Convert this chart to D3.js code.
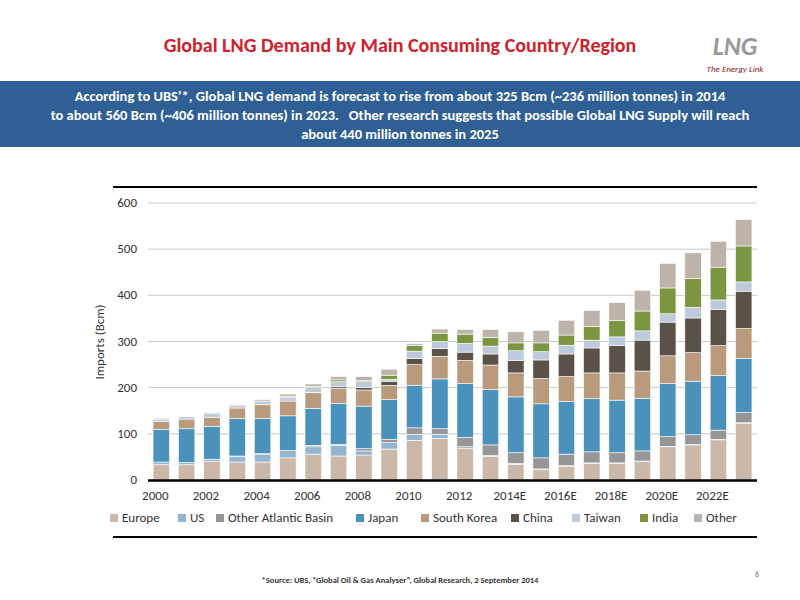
<!DOCTYPE html>
<html><head><meta charset="utf-8">
<script src="https://cdn.jsdelivr.net/npm/d3@7"></script>
<style>body{margin:0;background:#fff;font-family:Calibri,"Open Sans",sans-serif}</style>
</head><body>
<svg width="800" height="600"></svg>
<script>
// data (Bcm per year, stacked bottom to top)
const years = ['2000','2001','2002','2003','2004','2005','2006','2007','2008','2009','2010','2011','2012','2013','2014E','2015E','2016E','2017E','2018E','2019E','2020E','2021E','2022E','2023E'];
const tickYears = ['2000','2002','2004','2006','2008','2010','2012','2014E','2016E','2018E','2020E','2022E'];
const seriesNames = ['Europe','US','Other Atlantic Basin','Japan','South Korea','China','Taiwan','India','Other'];
const europe  = [33,33,40,39,39,48,56,52,54,67,86,90,68,51,34,23,30,36,36,40,72,76,87,123];
const us      = [6,5,5,12,17,16,16,23,9,14,13,9,4,2,2,1,1,1,1,1,1,1,1,1];
const otherAtl= [0,0,0,1,1,0,3,2,5,7,14,12,20,23,23,24,25,24,22,22,21,21,20,22];
const japan   = [70,73,71,81,76,75,80,89,92,86,92,108,117,120,121,117,114,115,114,114,115,116,118,117];
const korea   = [18,21,20,23,30,31,34,33,35,31,45,49,50,53,52,55,54,56,59,59,60,62,65,65];
const china   = [0,0,0,0,0,3,1,4,5,9,13,17,18,24,27,40,49,54,59,67,73,75,78,81];
const taiwan  = [5,5,8,6,8,6,10,10,13,4,16,15,19,17,21,18,19,17,19,20,18,23,21,20];
const india   = [0,0,0,0,0,2,3,4,2,9,12,18,20,19,17,19,22,30,35,43,56,62,71,78];
const other   = [2,1,2,2,3,5,5,7,9,13,4,9,10,17,24,27,32,34,39,45,53,56,56,57];
const yTicks = [0,100,200,300,400,500,600];
const colors = ['#cbb8a9','#93b5cf','#969696','#4a92bb','#b99a7d','#5a5149','#bccadb','#7b9540','#bdb3ab'];

const svg = d3.select('svg');
const allSeries = [europe,us,otherAtl,japan,korea,china,taiwan,india,other];
const rows = years.map((y,i) => {
  const r = {year:y};
  seriesNames.forEach((n,k) => r[n] = allSeries[k][i]);
  return r;
});
const stack = d3.stack().keys(seriesNames)(rows);

const x = d3.scaleBand().domain(years).range([148,757]).paddingInner(0.35).paddingOuter(0.2);
const y = d3.scaleLinear().domain([0,600]).range([480,203]);

// header
svg.append('text').attr('x',400).attr('y',52).attr('text-anchor','middle')
  .attr('fill','#d0202a').attr('font-weight','bold').attr('font-size',20).text('Global LNG Demand by Main Consuming Country/Region');
svg.append('text').attr('x',735).attr('y',55).attr('text-anchor','middle').attr('fill','#999')
  .attr('font-weight','bold').attr('font-size',26).attr('font-style','italic').text('LNG');
svg.append('text').attr('x',735).attr('y',72).attr('text-anchor','middle').attr('fill','#8b1a1a')
  .attr('font-size',9).attr('font-style','italic').text('The Energy Link');
svg.append('rect').attr('x',0).attr('y',81).attr('width',800).attr('height',66).attr('fill','#2f5f95');
const banner = ['According to UBS\u2019*, Global LNG demand is forecast to rise from about 325 Bcm (~236 million tonnes) in 2014',
  'to about 560 Bcm (~406 million tonnes) in 2023.   Other research suggests that possible Global LNG Supply will reach',
  'about 440 million tonnes in 2025'];
banner.forEach((t,i) => svg.append('text').attr('x',400).attr('y',101+i*19).attr('text-anchor','middle')
  .attr('fill','#fff').attr('font-weight','bold').attr('font-size',14.5).attr('xml:space','preserve').text(t));

// frame lines
svg.append('line').attr('x1',113).attr('x2',757).attr('y1',187).attr('y2',187).attr('stroke','#000').attr('stroke-width',2);
svg.append('line').attr('x1',113).attr('x2',757).attr('y1',537).attr('y2',537).attr('stroke','#000').attr('stroke-width',2);

// grid + y labels
svg.append('g').selectAll('line').data(yTicks.slice(1)).join('line')
  .attr('x1',148).attr('x2',757).attr('y1',d=>y(d)).attr('y2',d=>y(d)).attr('stroke','#c8c8c8');
svg.append('g').selectAll('text').data(yTicks).join('text')
  .attr('x',137).attr('y',d=>y(d)+4).attr('text-anchor','end').attr('font-size',13).attr('fill','#333').text(d=>d);
svg.append('text').attr('transform','translate(104,342) rotate(-90)').attr('text-anchor','middle')
  .attr('font-size',13).attr('fill','#333').text('Imports (Bcm)');

// bars
svg.append('g').selectAll('g').data(stack).join('g').attr('fill',(d,i)=>colors[i])
  .selectAll('rect').data(d=>d).join('rect')
  .attr('x',d=>x(d.data.year)).attr('width',x.bandwidth())
  .attr('y',d=>y(d[1])).attr('height',d=>Math.max(0,y(d[0])-y(d[1])))
  .attr('stroke','#fff').attr('stroke-width',0.6);

svg.append('line').attr('x1',148).attr('x2',757).attr('y1',480.5).attr('y2',480.5).attr('stroke','#000').attr('stroke-width',2.5);
svg.append('g').selectAll('text').data(tickYears).join('text')
  .attr('x',d=>x(d)+x.bandwidth()/2-6).attr('y',500).attr('text-anchor','middle').attr('font-size',13).attr('fill','#333').text(d=>d);

// legend
const legX = [110,178,216,356,421,511,572,640,694];
const leg = svg.append('g').selectAll('g').data(seriesNames).join('g')
  .attr('transform',(d,i)=>`translate(${legX[i]},522)`);
leg.append('rect').attr('x',0).attr('y',-8).attr('width',8).attr('height',8).attr('fill',(d,i)=>colors[i]);
leg.append('text').attr('x',12).attr('y',0).attr('font-size',13).attr('fill','#333').text(d=>d);

// footer
svg.append('text').attr('x',400).attr('y',583).attr('text-anchor','middle').attr('font-size',8.5).attr('font-weight','bold')
  .attr('fill','#333').text('*Source: UBS, \u201cGlobal Oil & Gas Analyser\u201d, Global Research, 2 September 2014');
svg.append('text').attr('x',757).attr('y',577).attr('text-anchor','middle').attr('font-size',8).attr('fill','#666').text('6');
</script>
</body></html>
